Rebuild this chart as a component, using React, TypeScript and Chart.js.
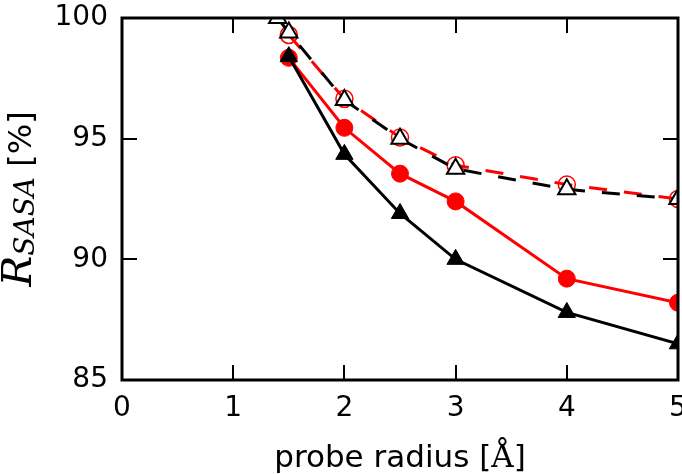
import React, { useEffect, useRef } from "react";
import { Chart, registerables } from "chart.js";

Chart.register(...registerables);

const xTicks = [0, 1, 2, 3, 4, 5];
const yTicks = [85, 90, 95, 100];

const radiiSolid = [1.5, 2, 2.5, 3, 4, 5];
const blackSolid = [98.4, 94.35, 91.9, 90.0, 87.8, 86.5];
const redSolid = [98.35, 95.45, 93.55, 92.4, 89.2, 88.2];

const radiiBlackDashed = [1.4, 1.5, 2, 2.5, 3, 4, 5];
const blackDashed = [100.0, 99.4, 96.6, 95.0, 93.75, 92.9, 92.5];
const radiiRedDashed = [1.5, 2, 2.5, 3, 4, 5];
const redDashed = [99.3, 96.65, 95.05, 93.9, 93.1, 92.5];

const xLabelMain = "probe radius [";
const xLabelUnit = "Å";
const xLabelEnd = "]";
const yLabelSymbol = "R";
const yLabelSub = "SASA";
const yLabelUnit = " [%]";

const pts = (xs: number[], ys: number[]) => xs.map((x, i) => ({ x, y: ys[i] }));

const SANS = '"DejaVu Sans", sans-serif';
const SERIF = '"DejaVu Serif", serif';

const framePlugin = {
  id: "frame",
  afterDatasetsDraw(chart: any) {
    const { ctx, chartArea: a, scales } = chart;
    ctx.save();
    ctx.strokeStyle = "#000";
    ctx.lineWidth = 2;
    const tl = 15;
    ctx.beginPath();
    for (const v of xTicks) {
      const px = Math.round(scales.x.getPixelForValue(v));
      ctx.moveTo(px, a.bottom);
      ctx.lineTo(px, a.bottom - tl);
      ctx.moveTo(px, a.top);
      ctx.lineTo(px, a.top + tl);
    }
    for (const v of yTicks) {
      const py = Math.round(scales.y.getPixelForValue(v));
      ctx.moveTo(a.left, py);
      ctx.lineTo(a.left + tl, py);
      ctx.moveTo(a.right, py);
      ctx.lineTo(a.right - tl, py);
    }
    ctx.stroke();
    ctx.lineWidth = 3;
    ctx.strokeRect(a.left, a.top, a.right - a.left, a.bottom - a.top);

    // x label
    ctx.fillStyle = "#000";
    ctx.textBaseline = "alphabetic";
    ctx.textAlign = "left";
    const fx = `31px ${SANS}`;
    const fu = `31px ${SERIF}`;
    ctx.font = fx;
    const w1 = ctx.measureText(xLabelMain).width;
    const w3 = ctx.measureText(xLabelEnd).width;
    ctx.font = fu;
    const w2 = ctx.measureText(xLabelUnit).width;
    const cx = (a.left + a.right) / 2;
    let sx = cx - (w1 + w2 + w3) / 2;
    const by = 467;
    ctx.font = fx;
    ctx.fillText(xLabelMain, sx, by);
    sx += w1;
    ctx.font = fu;
    ctx.fillText(xLabelUnit, sx, by);
    sx += w2;
    ctx.font = fx;
    ctx.fillText(xLabelEnd, sx, by);

    // y label
    const cy = (a.top + a.bottom) / 2;
    ctx.translate(31, cy);
    ctx.rotate(-Math.PI / 2);
    const fR = `italic 41px ${SERIF}`;
    const fS = `italic 28px ${SERIF}`;
    const fP = `32px ${SANS}`;
    ctx.font = fR;
    const r1 = ctx.measureText(yLabelSymbol).width;
    ctx.font = fS;
    const r2 = ctx.measureText(yLabelSub).width;
    ctx.font = fP;
    const r3 = ctx.measureText(yLabelUnit).width;
    let tx = -(r1 + r2 + r3) / 2;
    ctx.font = fR;
    ctx.fillText(yLabelSymbol, tx, 0);
    tx += r1;
    ctx.font = fS;
    ctx.fillText(yLabelSub, tx, 3);
    tx += r2;
    ctx.font = fP;
    ctx.fillText(yLabelUnit, tx, 0);
    ctx.restore();
  },
};

export default function App() {
  const ref = useRef<HTMLCanvasElement | null>(null);
  useEffect(() => {
    if (!ref.current) return;
    const chart = new Chart(ref.current, {
      type: "line",
      data: {
        datasets: [
          {
            data: pts(radiiSolid, blackSolid),
            borderColor: "#000",
            backgroundColor: "#000",
            borderWidth: 3,
            pointStyle: "triangle",
            pointRadius: 10,
            pointBorderWidth: 1,
            pointBorderColor: "#000",
            pointBackgroundColor: "#000",
            clip: 0,
          },
          {
            data: pts(radiiSolid, redSolid),
            borderColor: "#ff0000",
            backgroundColor: "#ff0000",
            borderWidth: 3,
            pointStyle: "circle",
            pointRadius: 8.5,
            pointBorderWidth: 1,
            pointBorderColor: "#ff0000",
            pointBackgroundColor: "#ff0000",
            clip: 0,
          },
          {
            data: pts(radiiBlackDashed, blackDashed),
            borderColor: "#000",
            backgroundColor: "#fff",
            borderWidth: 3,
            borderDash: [18, 17],
            pointStyle: "triangle",
            pointRadius: 10,
            pointBorderWidth: 2,
            pointBorderColor: "#000",
            pointBackgroundColor: "#fff",
            clip: 0,
          },
          {
            data: pts(radiiRedDashed, redDashed),
            borderColor: "#ff0000",
            backgroundColor: "rgba(0,0,0,0)",
            borderWidth: 3,
            borderDash: [18, 17],
            pointStyle: "circle",
            pointRadius: 8.5,
            pointBorderWidth: 1.5,
            pointBorderColor: "#ff0000",
            pointBackgroundColor: "rgba(0,0,0,0)",
            clip: 0,
          },
        ],
      },
      options: {
        animation: false,
        responsive: true,
        maintainAspectRatio: false,
        layout: { autoPadding: false, padding: { top: 18, right: 4, left: 0, bottom: 0 } },
        plugins: { legend: { display: false }, tooltip: { enabled: false } },
        elements: { line: { tension: 0 } },
        scales: {
          x: {
            type: "linear",
            min: 0,
            max: 5,
            afterBuildTicks: (s: any) => {
              s.ticks = xTicks.map((v) => ({ value: v }));
            },
            ticks: { font: { family: SANS, size: 28 }, color: "#000", padding: 12, maxRotation: 0, autoSkip: false },
            grid: { display: false, drawTicks: false },
            border: { display: false },
            afterFit: (s: any) => {
              s.height = 94;
              s.paddingLeft = 0;
              s.paddingRight = 0;
            },
          },
          y: {
            type: "linear",
            min: 85,
            max: 100,
            afterBuildTicks: (s: any) => {
              s.ticks = yTicks.map((v) => ({ value: v }));
            },
            ticks: { font: { family: SANS, size: 28 }, color: "#000", padding: 14, autoSkip: false },
            grid: { display: false, drawTicks: false },
            border: { display: false },
            afterFit: (s: any) => {
              s.width = 122;
              s.paddingTop = 0;
              s.paddingBottom = 0;
            },
          },
        },
      },
      plugins: [framePlugin],
    });
    return () => chart.destroy();
  }, []);
  return (
    <div style={{ position: "fixed", left: 0, top: 0, width: 682, height: 474, background: "#fff" }}>
      <canvas ref={ref} />
    </div>
  );
}
